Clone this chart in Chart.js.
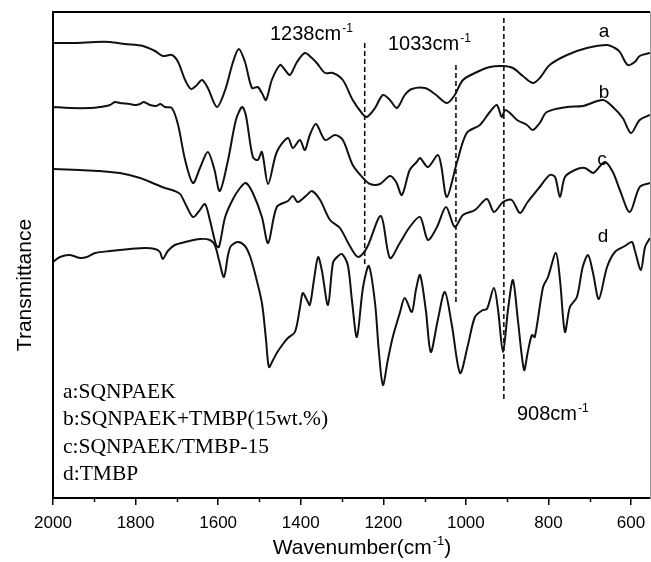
<!DOCTYPE html>
<html>
<head>
<meta charset="utf-8">
<script src="https://cdn.jsdelivr.net/npm/chart.js@4.4.1/dist/chart.umd.min.js"></script>
<style>
  html, body { margin: 0; padding: 0; background: #fff; }
  #wrap { width: 651px; height: 562px; position: relative; }
</style>
</head>
<body>
<div id="wrap"><canvas id="ftir"></canvas></div>
<script>
/* FTIR 스펙트럼 — a~d 네 시료 */

const waveA = [2000,1947,1898,1862,1826,1782,1753,1734,1712,1697,1680,1666,1654,1639,1625,1603,1583,1564,1550,1535,1518,1504,1494,1484,1470,1450,1438,1426,1409,1390,1373,1361,1341,1322,1298,1274,1252,1240,1220,1201,1184,1167,1148,1131,1099,1075,1046,1027,1007,973,942,910,886,862,838,821,797,755,707,658,639,627,608,591,579,554];
const transA = [455,455,456,456,454,452,447,442,443,436,418,409,412,418,410,391,408,436,449,436,410,411,405,398,418,433,428,423,436,445,440,435,425,425,418,398,385,381,390,403,398,390,403,409,410,404,395,403,418,426,431,432,430,422,415,420,433,443,450,453,450,446,433,436,442,445];

const waveB = [2000,1959,1910,1886,1862,1850,1838,1814,1800,1789,1780,1765,1750,1740,1729,1712,1697,1680,1661,1644,1625,1610,1596,1576,1557,1542,1533,1516,1504,1494,1479,1458,1431,1419,1402,1390,1378,1363,1341,1317,1298,1274,1249,1232,1208,1184,1169,1155,1136,1119,1111,1092,1068,1060,1046,1022,998,966,942,925,913,905,893,876,852,838,821,804,755,717,668,644,620,600,579,554];
const transB = [391,390,390,391,393,396,395,394,393,394,396,393,392,394,391,390,373,338,315,330,346,330,307,338,378,391,383,341,338,346,314,346,360,350,358,348,363,374,358,363,358,333,320,314,314,322,316,303,328,336,340,331,343,333,301,335,365,373,386,393,381,388,385,378,373,368,375,386,391,392,398,391,380,365,378,383];

const waveC = [2000,1935,1886,1838,1789,1753,1729,1705,1692,1678,1661,1646,1632,1620,1605,1598,1583,1564,1547,1533,1516,1494,1479,1458,1431,1419,1407,1385,1373,1353,1329,1305,1281,1261,1240,1206,1184,1160,1136,1111,1092,1070,1048,1027,1007,978,949,932,910,889,869,852,821,797,784,772,760,736,712,692,683,663,644,627,603,579,554];
const transC = [329,328,327,325,320,314,310,307,304,293,281,287,294,278,253,251,281,299,310,315,305,281,255,291,297,302,296,303,307,298,278,270,252,241,250,282,240,255,271,281,258,271,291,271,283,288,299,286,296,298,285,295,311,323,321,301,321,328,330,325,328,336,326,308,286,311,315];

const waveD = [2000,1983,1959,1935,1918,1898,1862,1814,1777,1753,1741,1734,1722,1705,1680,1644,1620,1608,1598,1586,1576,1569,1552,1535,1523,1511,1494,1484,1477,1467,1458,1443,1431,1414,1402,1395,1385,1378,1368,1358,1349,1334,1322,1312,1300,1286,1276,1264,1249,1235,1220,1211,1201,1189,1177,1160,1148,1131,1121,1111,1097,1085,1068,1051,1034,1014,995,978,959,949,932,922,910,898,886,874,859,850,840,833,813,801,782,772,760,748,731,717,704,692,678,658,639,615,598,591,576,566,554];
const transD = [236,241,243,240,241,245,247,249,250,249,246,239,247,253,256,259,258,253,238,221,243,252,256,252,242,225,195,158,131,138,145,154,160,166,190,205,198,193,218,241,228,193,235,241,244,233,198,161,211,232,195,148,113,138,161,185,200,186,208,223,188,146,178,206,173,125,153,181,188,189,210,188,146,188,218,178,128,146,163,161,211,221,245,218,166,191,201,231,243,225,199,231,246,252,256,248,228,251,260];

const peakWave = [1245, 1024, 908];
const peakTop = [455, 433, 480];
const peakBottom = [231, 196, 98];
const peakLabels = ['1238cm', '1033cm', '908cm'];

const xTicks = [2000, 1800, 1600, 1400, 1200, 1000, 800, 600];
const xMinorTicks = [1900, 1700, 1500, 1300, 1100, 900, 700];

const curveNames = ['a', 'b', 'c', 'd'];
const legendLines = ['a:SQNPAEK', 'b:SQNPAEK+TMBP(15wt.%)', 'c:SQNPAEK/TMBP-15', 'd:TMBP'];

const INK = '#111';
const SANS = "Arial, 'Liberation Sans', sans-serif";
const SERIF = "'Times New Roman', 'Liberation Serif', serif";

function toPoints(xs, ys) {
  return xs.map((x, i) => ({ x: x, y: ys[i] }));
}

const curves = [[waveA, transA], [waveB, transB], [waveC, transC], [waveD, transD]].map((s, i) => ({
  label: curveNames[i],
  data: toPoints(s[0], s[1]),
  borderColor: INK,
  borderWidth: 2,
  pointRadius: 0,
  tension: 0.3,
  fill: false,
}));

const dashes = peakWave.map((w, i) => ({
  label: 'peak' + i,
  data: [{ x: w, y: peakTop[i] }, { x: w, y: peakBottom[i] }],
  borderColor: INK,
  borderWidth: 1.6,
  borderDash: [5, 3],
  pointRadius: 0,
  fill: false,
}));

// 글자에 윗첨자 -1 붙이기
function supText(ctx, main, x, y, size, font) {
  ctx.font = size + 'px ' + font;
  ctx.textAlign = 'left';
  ctx.textBaseline = 'alphabetic';
  ctx.fillText(main, x, y);
  const w = ctx.measureText(main).width;
  ctx.font = Math.round(size * 0.6) + 'px ' + font;
  ctx.fillText('-1', x + w + 1, y - size * 0.42);
  return x + w + 1 + ctx.measureText('-1').width;
}

const decor = {
  id: 'decor',
  afterDraw(chart) {
    const { ctx, chartArea: a, scales } = chart;
    const xs = scales.x;
    ctx.save();
    ctx.strokeStyle = '#000';
    ctx.lineWidth = 2;
    ctx.beginPath();
    ctx.moveTo(a.left, a.bottom);
    ctx.lineTo(a.left, a.top);
    ctx.lineTo(a.right, a.top);
    ctx.stroke();
    ctx.strokeStyle = '#999';
    ctx.lineWidth = 1;
    ctx.beginPath();
    ctx.moveTo(a.right + 0.5, a.top);
    ctx.lineTo(a.right + 0.5, a.bottom);
    ctx.stroke();

    // 보조 눈금
    ctx.strokeStyle = '#000';
    ctx.lineWidth = 1.5;
    xMinorTicks.forEach(v => {
      const px = Math.round(xs.getPixelForValue(v)) + 0.5;
      ctx.beginPath();
      ctx.moveTo(px, a.bottom);
      ctx.lineTo(px, a.bottom + 4);
      ctx.stroke();
    });

    ctx.fillStyle = '#000';
    // 피크 위치 표시
    supText(ctx, peakLabels[0], 270, 40, 20, SANS);
    supText(ctx, peakLabels[1], 388, 50, 20, SANS);
    supText(ctx, peakLabels[2], 517, 420, 20, SANS);

    // 곡선 이름
    ctx.font = '19px ' + SANS;
    ctx.textAlign = 'center';
    ctx.textBaseline = 'alphabetic';
    ctx.fillText('a', 604, 37);
    ctx.fillText('b', 604, 98);
    ctx.fillText('c', 602, 165);
    ctx.fillText('d', 603, 242);

    // 범례 텍스트
    ctx.font = '21.5px ' + SERIF;
    ctx.textAlign = 'left';
    legendLines.forEach((t, i) => ctx.fillText(t, 63, 398 + i * 27.3));

    // 축 제목
    ctx.font = '21px ' + SANS;
    const mainW = ctx.measureText('Wavenumber(cm').width;
    ctx.font = '13px ' + SANS;
    const supW = ctx.measureText('-1').width;
    ctx.font = '21px ' + SANS;
    const closeW = ctx.measureText(')').width;
    const total = mainW + 1 + supW + closeW;
    const endX = supText(ctx, 'Wavenumber(cm', 362 - total / 2, 554, 21, SANS);
    ctx.font = '21px ' + SANS;
    ctx.fillText(')', endX, 554);

    ctx.translate(31, 285);
    ctx.rotate(-Math.PI / 2);
    ctx.textAlign = 'center';
    ctx.fillText('Transmittance', 0, 0);
    ctx.restore();
  }
};

new Chart(document.getElementById('ftir').getContext('2d'), {
  type: 'line',
  data: { datasets: [...curves, ...dashes] },
  options: {
    responsive: true,
    maintainAspectRatio: false,
    animation: false,
    layout: { padding: { left: 53, top: 12, right: 1, bottom: 0 } },
    plugins: { legend: { display: false }, tooltip: { enabled: false } },
    scales: {
      x: {
        type: 'linear',
        reverse: true,
        min: 554,
        max: 2000,
        afterBuildTicks: s => { s.ticks = xTicks.map(v => ({ value: v })); },
        afterFit: s => { s.height = 64; s.paddingLeft = 0; s.paddingRight = 0; },
        border: { display: true, color: '#000', width: 2 },
        grid: { display: true, drawOnChartArea: false, drawTicks: true, tickLength: 7, color: '#000', lineWidth: 1.5 },
        ticks: {
          color: '#000',
          font: { family: SANS, size: 17 },
          padding: 8,
          maxRotation: 0,
          autoSkip: false,
          callback: v => String(v),
        },
      },
      y: {
        display: false,
        min: 0,
        max: 486,
      }
    }
  },
  plugins: [decor]
});
</script>
</body>
</html>
